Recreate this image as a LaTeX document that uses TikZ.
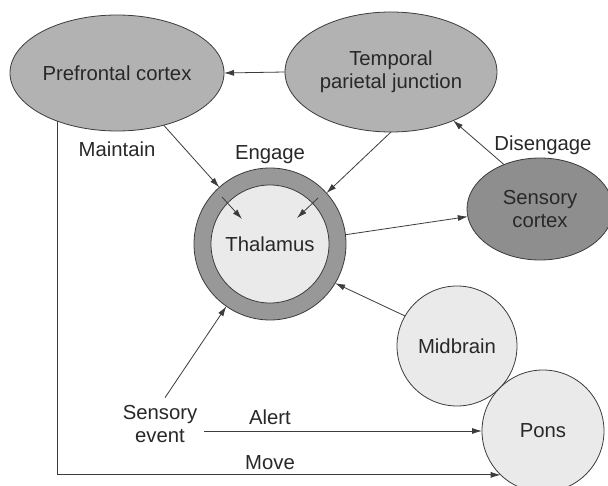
\documentclass[tikz,border=0pt]{standalone}
\usepackage{fontspec}
\setmainfont{Liberation Sans}
\usetikzlibrary{arrows.meta, positioning, shapes.geometric}
\definecolor{cortexgray}{RGB}{178,178,178}
\definecolor{sensgray}{RGB}{142,142,142}
\definecolor{ringgray}{RGB}{152,152,152}
\definecolor{palegray}{RGB}{234,234,234}
\definecolor{linegray}{RGB}{60,60,60}
\definecolor{inkgray}{RGB}{40,40,40}

\tikzset{
  region/.style={ellipse, draw=linegray, line width=0.8pt, fill=cortexgray, align=center, inner sep=0pt, outer sep=0pt},
  nucleus/.style={circle, draw=linegray, line width=0.8pt, fill=palegray, align=center, inner sep=0pt, outer sep=0pt},
  link/.style={draw=linegray, line width=0.8pt, -{Latex[length=10pt,width=6pt]}},
  lbl/.style={text=inkgray, inner sep=0pt}
}

\begin{document}
\begin{tikzpicture}[x=1pt, y=-1pt, font=\fontsize{20.3}{23}\selectfont, text=inkgray]
  \clip (0,0) rectangle (608,486);
  \fill[white] (0,0) rectangle (608,486);
  % Cortical regions
  \node[region, minimum width=214pt, minimum height=116pt] (pfc) at (117,73) {Prefrontal cortex};
  \node[region, minimum width=212pt, minimum height=120pt] (tpj) at (391,72) {Temporal\\parietal junction};
  \node[region, fill=sensgray, minimum width=146pt, minimum height=102pt] (sc) at (540,209) {Sensory\\cortex};
  % Thalamus: ring and core
  \node[nucleus, fill=ringgray, minimum size=152pt] (thal) at (270,244) {};
  \node[nucleus, minimum size=118pt] (core) at (thal) {Thalamus};
  % Brainstem
  \node[nucleus, minimum size=120pt] (mid) at (457,346) {Midbrain};
  \node[nucleus, minimum size=122pt] (pons) at (543,431) {Pons};
  \node[lbl, align=center] (event) at (160,424) {Sensory\\event};
  % Labels
  \node[lbl] (maintain) at (117,149) {Maintain};
  \node[lbl] (engage) at (270,155) {Engage};
  \node[lbl] (disengage) at (543,145) {Disengage};
  \node[lbl] (alert) at (270,417) {Alert};
  \node[lbl] (move) at (270,463) {Move};
  % Connections
  \draw[link] (tpj.west) -- (pfc.east);
  \draw[link] (pfc) -- (thal);
  \draw[link] (tpj.south) -- (thal.42);
  \draw[link] (sc.129) -- (tpj.322);
  \draw[link] (thal.7) -- (sc.186);
  \draw[link] (mid.150) -- (thal.-31);
  \draw[link, shorten <=9pt] (event.north) -- (thal.235);
  \draw[link, shorten <=7pt] (event.east |- pons.west) -- (pons.west);
  \draw[link] (pfc.219) |- (pons.226);
  % Engage arrows inside the ring
  \coordinate (pfcin) at (222,197);
  \coordinate (pfcend) at (242,219);
  \coordinate (tpjin) at (318,198);
  \coordinate (tpjend) at (297,218);
  \draw[link] (pfcin) -- (pfcend);
  \draw[link] (tpjin) -- (tpjend);
\end{tikzpicture}
\end{document}
